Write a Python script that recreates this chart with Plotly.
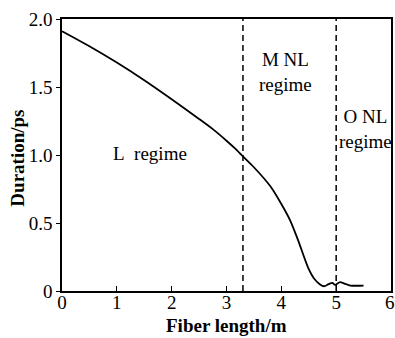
import plotly.graph_objects as go

fiber_length = [0, 0.5, 1.0, 1.5, 2.0, 2.5, 2.75, 3.0, 3.15, 3.3, 3.5, 3.8, 4.0, 4.16, 4.3, 4.49,
                4.6, 4.7, 4.78, 4.86, 4.93, 4.98, 5.07, 5.15, 5.26, 5.5]
duration = [1.91, 1.80, 1.68, 1.55, 1.41, 1.265, 1.19, 1.105, 1.05, 0.99, 0.91, 0.77, 0.64, 0.52,
            0.38, 0.17, 0.09, 0.05, 0.035, 0.05, 0.06, 0.045, 0.065, 0.055, 0.04, 0.04]
boundaries = [3.3, 5.0]
x_ticks = [0, 1, 2, 3, 4, 5, 6]
x_tick_text = ["0", "1", "2", "3", "4", "5", ""]
y_ticks = [0, 0.5, 1.0, 1.5, 2.0]
y_tick_text = ["0", "0.5", "1.0", "1.5", "2.0"]
labels = [(1.6, 1.01, "L&nbsp;&nbsp;regime"), (4.07, 1.61, "M NL<br>regime"), (5.53, 1.19, "O NL<br>regime")]

font_family = "Liberation Serif, Times New Roman, serif"

fig = go.Figure()
fig.add_trace(go.Scatter(x=fiber_length, y=duration, mode="lines",
                         line=dict(color="black", width=1.8, shape="spline", smoothing=0.7),
                         showlegend=False, hoverinfo="skip"))
for b in boundaries:
    fig.add_shape(type="line", x0=b, x1=b, y0=0, y1=2.0, xref="x", yref="y",
                  line=dict(color="black", width=1.5, dash="6px,4px"))
for lx, ly, lt in labels:
    fig.add_annotation(x=lx, y=ly, text=lt, showarrow=False, xref="x", yref="y",
                       font=dict(family=font_family, size=19, color="black"))
# last x tick label at the right edge
fig.add_annotation(x=6, y=0, yshift=1, xshift=-1, text="6", showarrow=False, xref="x", yref="y",
                   yanchor="top", font=dict(family=font_family, size=19, color="black"))
# axis titles
fig.add_annotation(x=0.5, y=-0.128, xref="paper", yref="paper", text="<b>Fiber length/m</b>",
                   showarrow=False, xanchor="center", yanchor="middle",
                   font=dict(family=font_family, size=19, color="black"))
fig.add_annotation(x=-0.134, y=0.49, xref="paper", yref="paper", text="<b>Duration/ps</b>",
                   showarrow=False, xanchor="center", yanchor="middle", textangle=-90,
                   font=dict(family=font_family, size=19, color="black"))

fig.update_layout(
    width=395, height=338,
    margin=dict(l=62, r=4, t=19, b=47),
    paper_bgcolor="white", plot_bgcolor="white",
    font=dict(family=font_family, size=19, color="black"),
)
fig.update_xaxes(range=[0, 6], tickvals=x_ticks, ticktext=x_tick_text, ticks="inside",
                 ticklen=5, tickwidth=1.2, ticklabelstandoff=-7,
                 tickcolor="black", showline=True, linecolor="black", linewidth=1.5, mirror=True,
                 showgrid=False, zeroline=False, automargin=False,
                 tickfont=dict(family=font_family, size=19))
fig.update_yaxes(range=[0, 2.0], tickvals=y_ticks, ticktext=y_tick_text, ticks="outside",
                 ticklen=4, tickwidth=1.2, tickcolor="black", showline=True, linecolor="black",
                 linewidth=1.5, mirror=True, showgrid=False, zeroline=False, automargin=False,
                 tickfont=dict(family=font_family, size=19))

fig.write_html("out.html", config={"displayModeBar": False},
               post_script="document.body.style.margin='0';")
